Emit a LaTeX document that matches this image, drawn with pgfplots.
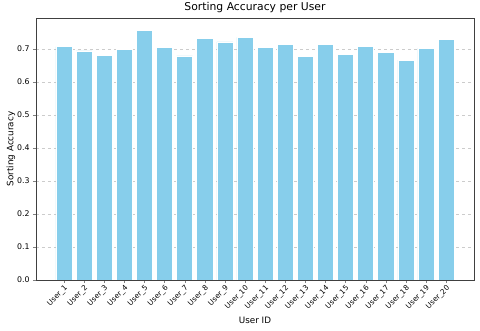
\documentclass[border=0pt]{standalone}
\usepackage{pgfplots}
\pgfplotsset{compat=1.18}
\usepackage{fontspec}
\setmainfont{DejaVu Sans}
\definecolor{skyblue}{RGB}{135,206,235}
\newcommand{\us}{\symbol{"5F}}
\begin{document}
\begin{tikzpicture}
\path[use as bounding box] (-36pt,-51pt) rectangle (444pt,280pt);
\begin{axis}[
    at={(0,0)}, anchor=south west,
    scale only axis, width=438pt, height=262pt,
    ymin=0, ymax=0.794,
    xmin=-1.39, xmax=20.39,
    ytick={0,0.1,...,0.7},
    yticklabel style={font=\fontsize{7.8}{8}\selectfont, /pgf/number format/fixed, /pgf/number format/precision=1, /pgf/number format/fixed zerofill},
    /pgf/number format/assume math mode=true,
    xtick={0,...,19},
    xticklabels={User\us1,User\us2,User\us3,User\us4,User\us5,User\us6,User\us7,User\us8,User\us9,User\us10,User\us11,User\us12,User\us13,User\us14,User\us15,User\us16,User\us17,User\us18,User\us19,User\us20},
    xticklabel style={font=\fontsize{7.3}{7}\selectfont, rotate=45, anchor=north east, inner sep=1pt},
    tick align=outside, tick pos=left,
    major tick length=3pt,
    ymajorgrids, grid style={dashed, gray!40, line width=0.5pt},
    axis line style={black!75, line width=0.6pt},
    title={Sorting Accuracy per User},
    title style={font=\fontsize{10.8}{11}\selectfont, yshift=-4pt},
    xlabel={User ID}, ylabel={Sorting Accuracy},
    label style={font=\fontsize{8.8}{9}\selectfont},
    xlabel style={yshift=-1pt},
    ylabel style={yshift=-5pt},
]
\addplot[ybar, bar width=0.8, fill=skyblue, draw=white, line width=0.5pt, bar shift=0pt] coordinates {
(0,0.707) (1,0.694) (2,0.681) (3,0.699) (4,0.756)
(5,0.706) (6,0.679) (7,0.733) (8,0.722) (9,0.735)
(10,0.704) (11,0.715) (12,0.677) (13,0.714) (14,0.684)
(15,0.708) (16,0.689) (17,0.666) (18,0.703) (19,0.729)
};
\end{axis}
\end{tikzpicture}
\end{document}
